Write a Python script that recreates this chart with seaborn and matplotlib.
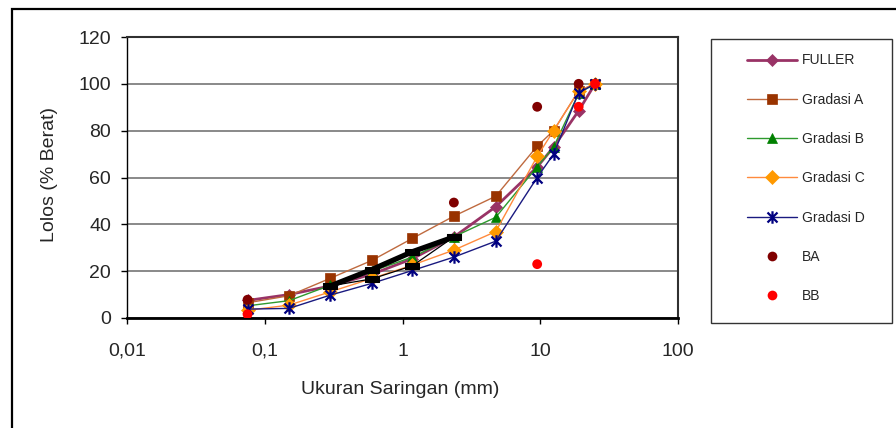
import matplotlib
matplotlib.use("Agg")
import matplotlib.pyplot as plt
import seaborn as sns
import numpy as np
import pandas as pd
from matplotlib.path import Path
from matplotlib.lines import Line2D
from matplotlib.patches import Rectangle
from matplotlib.ticker import NullLocator, FixedLocator, FixedFormatter

# ---------------- data ----------------
sizes = [0.075, 0.15, 0.3, 0.6, 1.18, 2.36, 4.75, 9.5, 12.5, 19, 25]
fuller = [7.5, 10, 13.7, 18.7, 25.3, 34.6, 47.5, 64.5, 73, 88.5, 100]
gradasi_a = [6.5, 9.5, 17, 24.6, 34, 43.5, 52, 73.4, 80, 97, 100]
gradasi_b = [5.2, 7.4, 14, 20, 26, 34.7, 43, 64.6, 73, 96, 100]
gradasi_c = [3.3, 5.5, 11.2, 16.9, 22.6, 29, 36.9, 69, 80, 97, 100]
gradasi_d = [3.8, 4.1, 9.8, 14.8, 20.3, 26, 32.8, 60, 70, 96.2, 100]

ba_x = [0.075, 2.36, 9.5, 19]
ba_y = [7.8, 49.3, 90.2, 100]
bb_x = [0.075, 9.5, 19, 25]
bb_y = [1.6, 23, 90.2, 100]

zone_x = [0.3, 0.6, 1.18, 2.36]
zone_upper = [13.7, 20.7, 28.3, 34.6]
zone_lower = [13.7, 16.7, 22.3, 34.6]

x_ticks = [0.01, 0.1, 1, 10, 100]
x_tick_labels = ["0,01", "0,1", "1", "10", "100"]
y_ticks = [0, 20, 40, 60, 80, 100, 120]

# ---------------- style ----------------
sns.set_style("white")
plt.rcParams["font.family"] = ["Liberation Sans", "DejaVu Sans"]

W, H = 896, 428
fig = plt.figure(figsize=(W / 100, H / 100), dpi=100)
ax = fig.add_axes([127 / W, 1 - 318 / H, (678 - 127) / W, (318 - 37) / H])

star = Path([(-1, -1), (1, 1), (-1, 1), (1, -1), (0, -1.25), (0, 1.25)],
            [Path.MOVETO, Path.LINETO, Path.MOVETO, Path.LINETO, Path.MOVETO, Path.LINETO])
rect = [(-1, -0.5), (1, -0.5), (1, 0.5), (-1, 0.5), (-1, -0.5)]

series = [
    ("FULLER", fuller, "#993366", "#993366", "D", 6.0, 2.0),
    ("Gradasi A", gradasi_a, "#bf6a3f", "#993300", "s", 6.5, 1.0),
    ("Gradasi B", gradasi_b, "#2e9a2e", "#008000", "^", 7.0, 1.0),
    ("Gradasi C", gradasi_c, "#ff8a3d", "#ff9900", "D", 7.2, 1.0),
    ("Gradasi D", gradasi_d, "#1a1a80", "#000080", star, 9.0, 1.0),
]

handles = []
for name, vals, lc, mc, mk, ms, lw in series:
    mew = 1.6 if mk is star else 0.5
    sns.lineplot(x=sizes, y=vals, ax=ax, color=lc, lw=lw, marker=mk, markersize=ms,
                 markerfacecolor=mc, markeredgecolor=mc, markeredgewidth=mew,
                 sort=False, legend=False, zorder=3)
    handles.append(Line2D([], [], color=lc, lw=lw, marker=mk, markersize=ms,
                          markerfacecolor=mc, markeredgecolor=mc, markeredgewidth=mew,
                          label=name))

# restricted zone (black)
sns.lineplot(x=zone_x, y=zone_upper, ax=ax, color="black", lw=3.8, marker=rect,
             markersize=9.5, markerfacecolor="black", markeredgecolor="black",
             sort=False, legend=False, zorder=4)
sns.lineplot(x=zone_x, y=zone_lower, ax=ax, color="black", lw=0.9, marker=rect,
             markersize=9.5, markerfacecolor="black", markeredgecolor="black",
             sort=False, legend=False, zorder=4)

sns.scatterplot(x=ba_x, y=ba_y, ax=ax, color="#800000", s=50, edgecolor="none",
                legend=False, zorder=5)
sns.scatterplot(x=bb_x, y=bb_y, ax=ax, color="#ff0000", s=50, edgecolor="none",
                legend=False, zorder=5)
handles.append(Line2D([], [], ls="none", marker="o", markersize=7,
                      markerfacecolor="#800000", markeredgecolor="none", label="BA"))
handles.append(Line2D([], [], ls="none", marker="o", markersize=7,
                      markerfacecolor="#ff0000", markeredgecolor="none", label="BB"))

# ---------------- axes ----------------
ax.set_xscale("log")
ax.set_xlim(0.01, 100)
ax.set_ylim(0, 120)
ax.xaxis.set_major_locator(FixedLocator(x_ticks))
ax.xaxis.set_major_formatter(FixedFormatter(x_tick_labels))
ax.xaxis.set_minor_locator(NullLocator())
ax.set_yticks(y_ticks)
ax.set_xlabel("")
ax.set_ylabel("")
ax.yaxis.grid(True, color="#808080", lw=1.3)
ax.xaxis.grid(False)
ax.set_axisbelow(True)
ax.tick_params(axis="x", direction="out", length=4.5, width=1, color="black",
               labelsize=14, pad=13.5, bottom=True)
ax.tick_params(axis="y", direction="out", length=4.5, width=1, color="black",
               labelsize=14, pad=7, left=True)
for s in ["top", "right"]:
    ax.spines[s].set_color("#303030")
    ax.spines[s].set_linewidth(1.5)
ax.spines["bottom"].set_color("black")
ax.spines["bottom"].set_linewidth(2.0)
ax.spines["left"].set_color("black")
ax.spines["left"].set_linewidth(1.0)

fig.text(50 / W, 1 - 175 / H, "Lolos (% Berat)", rotation=90, ha="center", va="center",
         fontsize=14)
fig.text(400 / W, 1 - 389 / H, "Ukuran Saringan (mm)", ha="center", va="center",
         fontsize=14)

# legend box
fig.patches.append(Rectangle((711 / W, 1 - 322.5 / H), (892 - 711) / W, (322.5 - 39) / H,
                             transform=fig.transFigure, fill=False, edgecolor="#333333",
                             lw=1.0, zorder=1))
leg = fig.legend(handles=handles, loc="upper left", bbox_to_anchor=(747 / W, 1 - 53.5 / H),
                 bbox_transform=fig.transFigure, frameon=False, fontsize=10,
                 handlelength=3.6, handletextpad=0.35, labelspacing=1.82,
                 borderpad=0, borderaxespad=0)

# outer chart frame
fig.patches.append(Rectangle((12 / W, -0.2), 1.2, 1.2 - 9 / H, transform=fig.transFigure,
                             fill=False, edgecolor="black", lw=1.6, zorder=0))

fig.savefig("out.png", dpi=100)
